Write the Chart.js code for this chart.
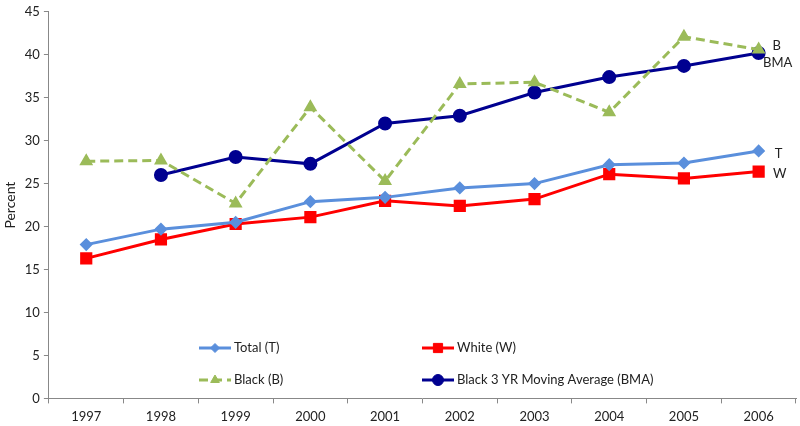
<!DOCTYPE html>
<html>
<head>
<meta charset="utf-8">
<script src="https://cdn.jsdelivr.net/npm/chart.js@4/dist/chart.umd.min.js"></script>
<style>
  html, body { margin: 0; padding: 0; background: #fff; }
  #wrap { width: 800px; height: 426px; }
</style>
</head>
<body>
<div id="wrap"><canvas id="chart" width="800" height="426"></canvas></div>
<script>
const years = ['1997', '1998', '1999', '2000', '2001', '2002', '2003', '2004', '2005', '2006'];
const total = [17.9, 19.7, 20.5, 22.9, 23.4, 24.5, 25.0, 27.2, 27.4, 28.8];
const white = [16.3, 18.5, 20.3, 21.1, 23.0, 22.4, 23.2, 26.1, 25.6, 26.4];
const black = [27.6, 27.7, 22.7, 33.9, 25.3, 36.6, 36.8, 33.3, 42.1, 40.6];
const blackAvg = [null, 26.0, 28.1, 27.3, 32.0, 32.9, 35.6, 37.4, 38.7, 40.2];
const endLabels = ['T', 'W', 'B', 'BMA'];

const font = "Lato, 'Open Sans', 'Liberation Sans', sans-serif";

// legend drawn inside the plot, two columns, like the original
const insideLegend = {
  id: 'insideLegend',
  afterDraw(chart) {
    const ctx = chart.ctx;
    const spots = [[199, 348], [422, 348], [199, 380], [422, 380]];
    chart.data.datasets.forEach((ds, i) => {
      const [x, y] = spots[i];
      ctx.save();
      ctx.strokeStyle = ds.borderColor;
      ctx.fillStyle = ds.backgroundColor;
      ctx.lineWidth = ds.borderWidth;
      ctx.setLineDash(ds.borderDash || []);
      ctx.beginPath();
      ctx.moveTo(x, y);
      ctx.lineTo(x + 32, y);
      ctx.stroke();
      ctx.setLineDash([]);
      ctx.lineWidth = 1;
      Chart.helpers.drawPoint(ctx, {
        pointStyle: ds.pointStyle,
        radius: ds.pointRadius,
        borderWidth: 1
      }, x + 16, y);
      ctx.fillStyle = '#222';
      ctx.font = '13px ' + font;
      ctx.textBaseline = 'middle';
      ctx.fillText(ds.label, x + 35, y);
      ctx.restore();
    });

    // short labels at the end of each line
    const offsets = [[20, 3], [21, 2], [18, -4], [19, 10]];
    chart.data.datasets.forEach((ds, i) => {
      const meta = chart.getDatasetMeta(i);
      const pt = meta.data[meta.data.length - 1];
      ctx.save();
      ctx.fillStyle = '#222';
      ctx.font = '13px ' + font;
      ctx.textBaseline = 'middle';
      ctx.textAlign = 'center';
      ctx.fillText(endLabels[i], pt.x + offsets[i][0], pt.y + offsets[i][1]);
      ctx.restore();
    });
  }
};

const ctx = document.getElementById('chart').getContext('2d');
new Chart(ctx, {
  type: 'line',
  data: {
    labels: years,
    datasets: [
      {
        label: 'Total (T)', data: total,
        borderColor: '#5A8FDC', backgroundColor: '#5A8FDC',
        borderWidth: 3, pointStyle: 'rectRot', pointRadius: 4.5
      },
      {
        label: 'White (W)', data: white,
        borderColor: '#FF0000', backgroundColor: '#FF0000',
        borderWidth: 3, pointStyle: 'rect', pointRadius: 6.5
      },
      {
        label: 'Black (B)', data: black,
        borderColor: '#9BBB59', backgroundColor: '#9BBB59',
        borderWidth: 3, borderDash: [9, 5], pointStyle: 'triangle', pointRadius: 5
      },
      {
        label: 'Black 3 YR Moving Average (BMA)', data: blackAvg,
        borderColor: '#000090', backgroundColor: '#000090',
        borderWidth: 3, pointStyle: 'circle', pointRadius: 5.5
      }
    ]
  },
  options: {
    responsive: false,
    animation: false,
    layout: { autoPadding: false, padding: { top: 1, right: 4, left: 0, bottom: -5 } },
    plugins: {
      legend: { display: false },
      tooltip: { enabled: false }
    },
    scales: {
      x: {
        offset: true,
        grid: { offset: true, drawOnChartArea: false, color: '#888', tickLength: 5 },
        border: { color: '#888' },
        ticks: { color: '#222', font: { family: font, size: 13 }, maxRotation: 0, padding: 6 }
      },
      y: {
        min: 0, max: 45,
        grid: { drawOnChartArea: false, color: '#888', tickLength: 5 },
        border: { color: '#888' },
        ticks: { stepSize: 5, color: '#222', font: { family: font, size: 13 }, padding: 4 },
        title: { display: true, text: 'Percent', color: '#222', font: { family: font, size: 14 }, padding: 2 }
      }
    }
  },
  plugins: [insideLegend]
});
</script>
</body>
</html>
